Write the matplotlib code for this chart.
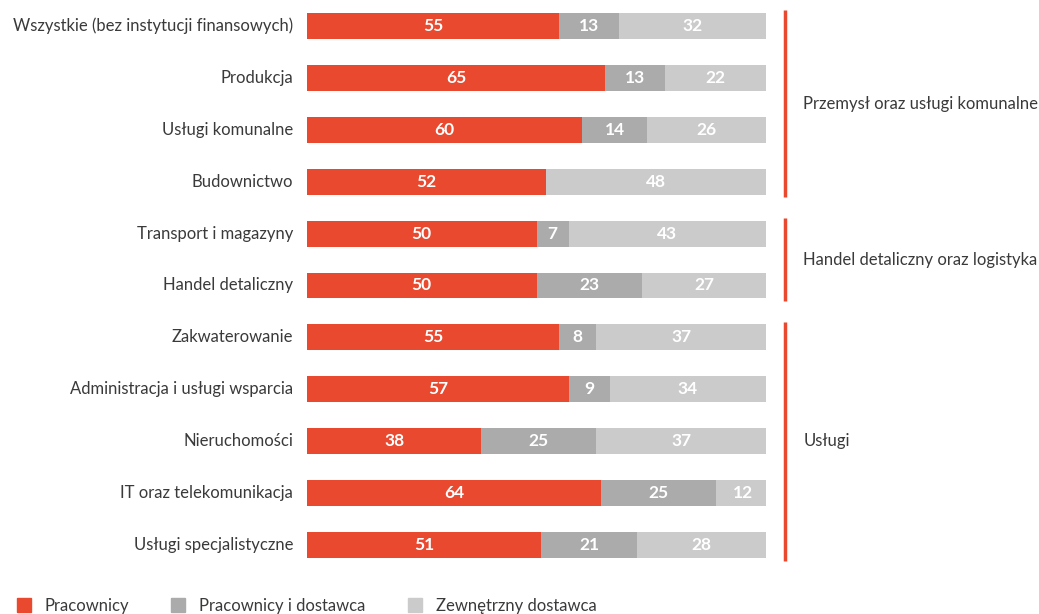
import matplotlib.pyplot as plt
from matplotlib.patches import Rectangle

categories = ["Wszystkie (bez instytucji finansowych)", "Produkcja", "Usługi komunalne",
              "Budownictwo", "Transport i magazyny", "Handel detaliczny", "Zakwaterowanie",
              "Administracja i usługi wsparcia", "Nieruchomości", "IT oraz telekomunikacja",
              "Usługi specjalistyczne"]
pracownicy = [55, 65, 60, 52, 50, 50, 55, 57, 38, 64, 51]
prac_i_dostawca = [13, 13, 14, 0, 7, 23, 8, 9, 25, 25, 21]
zewnetrzny = [32, 22, 26, 48, 43, 27, 37, 34, 37, 12, 28]
series_names = ["Pracownicy", "Pracownicy i dostawca", "Zewnętrzny dostawca"]
groups = ["Przemysł oraz usługi komunalne", "Handel detaliczny oraz logistyka", "Usługi"]
group_rows = [(0, 3), (4, 5), (6, 10)]

colors = ["#E8492F", "#ABABAB", "#CBCBCB"]
text_color = "#3a3a3a"
plt.rcParams['font.family'] = ['Lato', 'DejaVu Sans']

W, H = 1039, 614
fig = plt.figure(figsize=(W / 100, H / 100), dpi=100)
ax = fig.add_axes([307 / W, (H - 571) / H, 459 / W, 571 / H])
ax.set_xlim(0, 100)
ax.set_ylim(10.5, -0.5)
ax.axis('off')

y = list(range(len(categories)))
left = [0] * len(categories)
for vals, col in zip([pracownicy, prac_i_dostawca, zewnetrzny], colors):
    ax.barh(y, vals, left=left, height=0.5, color=col)
    for i, v in enumerate(vals):
        if v > 0:
            ax.text(left[i] + v / 2, i, str(v), ha='center', va='center',
                    color='white', fontsize=12.5, fontweight='bold')
    left = [l + v for l, v in zip(left, vals)]

for i, c in enumerate(categories):
    ax.text(-3, i, c, ha='right', va='center', color=text_color, fontsize=12,
            fontweight='normal')

for g, (a, b) in zip(groups, group_rows):
    ax.plot([104.1, 104.1], [a - 0.3, b + 0.3], color=colors[0], lw=2.5,
            clip_on=False, solid_capstyle='butt')
    ax.text(108.1, (a + b) / 2, g, ha='left', va='center', color=text_color,
            fontsize=12, fontweight='normal')

# legend drawn in figure pixels
leg_x = [17, 171, 408]
for name, col, x0 in zip(series_names, colors, leg_x):
    fig.patches.append(Rectangle((x0 / W, (H - 612) / H), 14 / W, 14 / H,
                                 transform=fig.transFigure, color=col))
    fig.text((x0 + 28) / W, (H - 606) / H, name, ha='left', va='center',
             color=text_color, fontsize=12, fontweight='normal')

fig.savefig("out.png", dpi=100)
